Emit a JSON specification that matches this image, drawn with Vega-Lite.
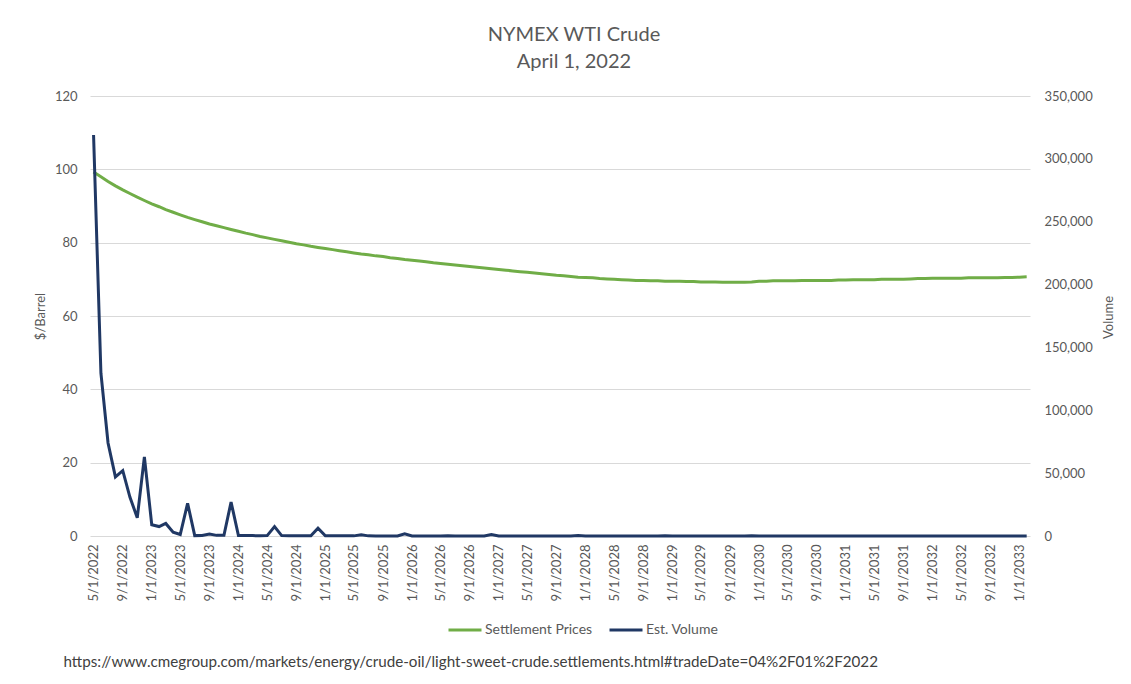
{
  "$schema": "https://vega.github.io/schema/vega-lite/v6.json",
  "width": 940,
  "height": 440,
  "autosize": {"type": "none"},
  "padding": {"left": 90, "top": 96, "right": 101, "bottom": 148},
  "background": "white",
  "config": {
    "font": "Lato",
    "view": {"stroke": null},
    "axis": {"labelColor": "#595959", "titleColor": "#595959", "labelFontSize": 13, "titleFontSize": 13, "titleFontWeight": "normal", "ticks": false, "domain": false}
  },
  "title": {
    "text": ["NYMEX WTI Crude", "April 1, 2022"],
    "fontSize": 20,
    "fontWeight": "normal",
    "color": "#595959",
    "anchor": "middle",
    "offset": 18,
    "dx": 14,
    "lineHeight": 27
  },
  "data": {
    "values": [
      {"date": "5/1/2022", "price": 99.3, "volume": 319000},
      {"date": "6/1/2022", "price": 98.0, "volume": 129500},
      {"date": "7/1/2022", "price": 96.7, "volume": 74000},
      {"date": "8/1/2022", "price": 95.5, "volume": 47000},
      {"date": "9/1/2022", "price": 94.4, "volume": 52000},
      {"date": "10/1/2022", "price": 93.4, "volume": 31000},
      {"date": "11/1/2022", "price": 92.4, "volume": 14500},
      {"date": "12/1/2022", "price": 91.5, "volume": 63000},
      {"date": "1/1/2023", "price": 90.6, "volume": 9000},
      {"date": "2/1/2023", "price": 89.8, "volume": 7500},
      {"date": "3/1/2023", "price": 89.0, "volume": 10000},
      {"date": "4/1/2023", "price": 88.3, "volume": 3000},
      {"date": "5/1/2023", "price": 87.6, "volume": 1200},
      {"date": "6/1/2023", "price": 86.9, "volume": 26000},
      {"date": "7/1/2023", "price": 86.3, "volume": 300},
      {"date": "8/1/2023", "price": 85.7, "volume": 400},
      {"date": "9/1/2023", "price": 85.1, "volume": 1500},
      {"date": "10/1/2023", "price": 84.6, "volume": 500},
      {"date": "11/1/2023", "price": 84.1, "volume": 600},
      {"date": "12/1/2023", "price": 83.6, "volume": 27000},
      {"date": "1/1/2024", "price": 83.1, "volume": 400},
      {"date": "2/1/2024", "price": 82.6, "volume": 300},
      {"date": "3/1/2024", "price": 82.2, "volume": 300},
      {"date": "4/1/2024", "price": 81.7, "volume": 200},
      {"date": "5/1/2024", "price": 81.3, "volume": 300},
      {"date": "6/1/2024", "price": 80.9, "volume": 7500},
      {"date": "7/1/2024", "price": 80.5, "volume": 300},
      {"date": "8/1/2024", "price": 80.1, "volume": 200},
      {"date": "9/1/2024", "price": 79.7, "volume": 200},
      {"date": "10/1/2024", "price": 79.4, "volume": 100},
      {"date": "11/1/2024", "price": 79.0, "volume": 200},
      {"date": "12/1/2024", "price": 78.7, "volume": 6200},
      {"date": "1/1/2025", "price": 78.4, "volume": 200},
      {"date": "2/1/2025", "price": 78.1, "volume": 100},
      {"date": "3/1/2025", "price": 77.8, "volume": 100},
      {"date": "4/1/2025", "price": 77.5, "volume": 100},
      {"date": "5/1/2025", "price": 77.2, "volume": 100},
      {"date": "6/1/2025", "price": 76.9, "volume": 900},
      {"date": "7/1/2025", "price": 76.7, "volume": 100},
      {"date": "8/1/2025", "price": 76.4, "volume": 50},
      {"date": "9/1/2025", "price": 76.2, "volume": 50},
      {"date": "10/1/2025", "price": 75.9, "volume": 50},
      {"date": "11/1/2025", "price": 75.7, "volume": 50},
      {"date": "12/1/2025", "price": 75.4, "volume": 1800},
      {"date": "1/1/2026", "price": 75.2, "volume": 50},
      {"date": "2/1/2026", "price": 75.0, "volume": 20},
      {"date": "3/1/2026", "price": 74.8, "volume": 20},
      {"date": "4/1/2026", "price": 74.5, "volume": 20},
      {"date": "5/1/2026", "price": 74.3, "volume": 20},
      {"date": "6/1/2026", "price": 74.1, "volume": 100},
      {"date": "7/1/2026", "price": 73.9, "volume": 20},
      {"date": "8/1/2026", "price": 73.7, "volume": 20},
      {"date": "9/1/2026", "price": 73.5, "volume": 20},
      {"date": "10/1/2026", "price": 73.3, "volume": 20},
      {"date": "11/1/2026", "price": 73.1, "volume": 20},
      {"date": "12/1/2026", "price": 72.9, "volume": 1200},
      {"date": "1/1/2027", "price": 72.7, "volume": 20},
      {"date": "2/1/2027", "price": 72.5, "volume": 0},
      {"date": "3/1/2027", "price": 72.3, "volume": 0},
      {"date": "4/1/2027", "price": 72.1, "volume": 0},
      {"date": "5/1/2027", "price": 71.9, "volume": 0},
      {"date": "6/1/2027", "price": 71.7, "volume": 50},
      {"date": "7/1/2027", "price": 71.5, "volume": 0},
      {"date": "8/1/2027", "price": 71.3, "volume": 0},
      {"date": "9/1/2027", "price": 71.1, "volume": 0},
      {"date": "10/1/2027", "price": 71.0, "volume": 0},
      {"date": "11/1/2027", "price": 70.8, "volume": 0},
      {"date": "12/1/2027", "price": 70.6, "volume": 300},
      {"date": "1/1/2028", "price": 70.5, "volume": 0},
      {"date": "2/1/2028", "price": 70.4, "volume": 0},
      {"date": "3/1/2028", "price": 70.2, "volume": 0},
      {"date": "4/1/2028", "price": 70.1, "volume": 0},
      {"date": "5/1/2028", "price": 70.0, "volume": 0},
      {"date": "6/1/2028", "price": 69.9, "volume": 50},
      {"date": "7/1/2028", "price": 69.8, "volume": 0},
      {"date": "8/1/2028", "price": 69.7, "volume": 0},
      {"date": "9/1/2028", "price": 69.7, "volume": 0},
      {"date": "10/1/2028", "price": 69.6, "volume": 0},
      {"date": "11/1/2028", "price": 69.6, "volume": 0},
      {"date": "12/1/2028", "price": 69.5, "volume": 200},
      {"date": "1/1/2029", "price": 69.5, "volume": 0},
      {"date": "2/1/2029", "price": 69.5, "volume": 0},
      {"date": "3/1/2029", "price": 69.4, "volume": 0},
      {"date": "4/1/2029", "price": 69.4, "volume": 0},
      {"date": "5/1/2029", "price": 69.3, "volume": 0},
      {"date": "6/1/2029", "price": 69.3, "volume": 0},
      {"date": "7/1/2029", "price": 69.3, "volume": 0},
      {"date": "8/1/2029", "price": 69.2, "volume": 0},
      {"date": "9/1/2029", "price": 69.2, "volume": 0},
      {"date": "10/1/2029", "price": 69.2, "volume": 0},
      {"date": "11/1/2029", "price": 69.2, "volume": 0},
      {"date": "12/1/2029", "price": 69.3, "volume": 100},
      {"date": "1/1/2030", "price": 69.5, "volume": 0},
      {"date": "2/1/2030", "price": 69.5, "volume": 0},
      {"date": "3/1/2030", "price": 69.6, "volume": 0},
      {"date": "4/1/2030", "price": 69.6, "volume": 0},
      {"date": "5/1/2030", "price": 69.6, "volume": 0},
      {"date": "6/1/2030", "price": 69.6, "volume": 0},
      {"date": "7/1/2030", "price": 69.7, "volume": 0},
      {"date": "8/1/2030", "price": 69.7, "volume": 0},
      {"date": "9/1/2030", "price": 69.7, "volume": 0},
      {"date": "10/1/2030", "price": 69.7, "volume": 0},
      {"date": "11/1/2030", "price": 69.7, "volume": 0},
      {"date": "12/1/2030", "price": 69.8, "volume": 0},
      {"date": "1/1/2031", "price": 69.8, "volume": 0},
      {"date": "2/1/2031", "price": 69.9, "volume": 0},
      {"date": "3/1/2031", "price": 69.9, "volume": 0},
      {"date": "4/1/2031", "price": 69.9, "volume": 0},
      {"date": "5/1/2031", "price": 69.9, "volume": 0},
      {"date": "6/1/2031", "price": 70.0, "volume": 0},
      {"date": "7/1/2031", "price": 70.0, "volume": 0},
      {"date": "8/1/2031", "price": 70.0, "volume": 0},
      {"date": "9/1/2031", "price": 70.0, "volume": 0},
      {"date": "10/1/2031", "price": 70.1, "volume": 0},
      {"date": "11/1/2031", "price": 70.2, "volume": 0},
      {"date": "12/1/2031", "price": 70.2, "volume": 0},
      {"date": "1/1/2032", "price": 70.3, "volume": 0},
      {"date": "2/1/2032", "price": 70.3, "volume": 0},
      {"date": "3/1/2032", "price": 70.3, "volume": 0},
      {"date": "4/1/2032", "price": 70.3, "volume": 0},
      {"date": "5/1/2032", "price": 70.3, "volume": 0},
      {"date": "6/1/2032", "price": 70.4, "volume": 0},
      {"date": "7/1/2032", "price": 70.4, "volume": 0},
      {"date": "8/1/2032", "price": 70.4, "volume": 0},
      {"date": "9/1/2032", "price": 70.4, "volume": 0},
      {"date": "10/1/2032", "price": 70.4, "volume": 0},
      {"date": "11/1/2032", "price": 70.5, "volume": 0},
      {"date": "12/1/2032", "price": 70.5, "volume": 0},
      {"date": "1/1/2033", "price": 70.6, "volume": 0},
      {"date": "2/1/2033", "price": 70.7, "volume": 0}
    ]
  },
  "encoding": {
    "x": {
      "field": "date",
      "type": "temporal",
      "scale": {"domain": [{"year": 2022, "month": 4, "date": 16}, {"year": 2033, "month": 2, "date": 15}]},
      "axis": {
        "values": [
          {"year": 2022, "month": 5, "date": 1}, {"year": 2022, "month": 9, "date": 1},
          {"year": 2023, "month": 1, "date": 1}, {"year": 2023, "month": 5, "date": 1}, {"year": 2023, "month": 9, "date": 1},
          {"year": 2024, "month": 1, "date": 1}, {"year": 2024, "month": 5, "date": 1}, {"year": 2024, "month": 9, "date": 1},
          {"year": 2025, "month": 1, "date": 1}, {"year": 2025, "month": 5, "date": 1}, {"year": 2025, "month": 9, "date": 1},
          {"year": 2026, "month": 1, "date": 1}, {"year": 2026, "month": 5, "date": 1}, {"year": 2026, "month": 9, "date": 1},
          {"year": 2027, "month": 1, "date": 1}, {"year": 2027, "month": 5, "date": 1}, {"year": 2027, "month": 9, "date": 1},
          {"year": 2028, "month": 1, "date": 1}, {"year": 2028, "month": 5, "date": 1}, {"year": 2028, "month": 9, "date": 1},
          {"year": 2029, "month": 1, "date": 1}, {"year": 2029, "month": 5, "date": 1}, {"year": 2029, "month": 9, "date": 1},
          {"year": 2030, "month": 1, "date": 1}, {"year": 2030, "month": 5, "date": 1}, {"year": 2030, "month": 9, "date": 1},
          {"year": 2031, "month": 1, "date": 1}, {"year": 2031, "month": 5, "date": 1}, {"year": 2031, "month": 9, "date": 1},
          {"year": 2032, "month": 1, "date": 1}, {"year": 2032, "month": 5, "date": 1}, {"year": 2032, "month": 9, "date": 1},
          {"year": 2033, "month": 1, "date": 1}
        ],
        "format": "%-m/%-d/%Y",
        "labelAngle": -90,
        "labelPadding": 8,
        "labelOverlap": false,
        "labelFlush": false,
        "grid": false,
        "title": "https://www.cmegroup.com/markets/energy/crude-oil/light-sweet-crude.settlements.html#tradeDate=04%2F01%2F2022",
        "titleAnchor": "start",
        "titleAlign": "left",
        "titleBaseline": "middle",
        "titleX": -27,
        "titleY": 125,
        "titleFontSize": 15.2,
        "titleColor": "#404040"
      }
    }
  },
  "layer": [
    {
      "mark": {"type": "line", "strokeWidth": 3},
      "encoding": {
        "y": {
          "field": "price",
          "type": "quantitative",
          "scale": {"domain": [0, 120], "nice": false},
          "axis": {
            "values": [0, 20, 40, 60, 80, 100, 120],
            "grid": true,
            "gridColor": "#d9d9d9",
            "labelPadding": 13,
            "title": "$/Barrel",
            "titleAngle": 270,
            "titleX": -50,
            "titleY": 220,
            "titleBaseline": "middle",
            "titleAlign": "center"
          }
        },
        "color": {
          "datum": "Settlement Prices",
          "type": "nominal",
          "scale": {"domain": ["Settlement Prices", "Est. Volume"], "range": ["#70ad47", "#203864"]},
          "legend": {
            "orient": "none",
            "legendX": 357,
            "legendY": 516,
            "direction": "horizontal",
            "title": null,
            "symbolType": "stroke",
            "symbolSize": 1089,
            "symbolStrokeWidth": 3,
            "labelFontSize": 14,
            "labelColor": "#595959",
            "labelOffset": 2,
            "columnSpacing": 20
          }
        }
      }
    },
    {
      "mark": {"type": "line", "strokeWidth": 3},
      "encoding": {
        "y": {
          "field": "volume",
          "type": "quantitative",
          "scale": {"domain": [0, 350000], "nice": false},
          "axis": {
            "orient": "right",
            "values": [0, 50000, 100000, 150000, 200000, 250000, 300000, 350000],
            "format": ",d",
            "grid": false,
            "labelPadding": 14,
            "title": "Volume",
            "titleAngle": 270,
            "titleX": 78,
            "titleY": 221,
            "titleBaseline": "middle",
            "titleAlign": "center"
          }
        },
        "color": {"datum": "Est. Volume", "type": "nominal"}
      }
    }
  ],
  "resolve": {"scale": {"y": "independent"}}
}
